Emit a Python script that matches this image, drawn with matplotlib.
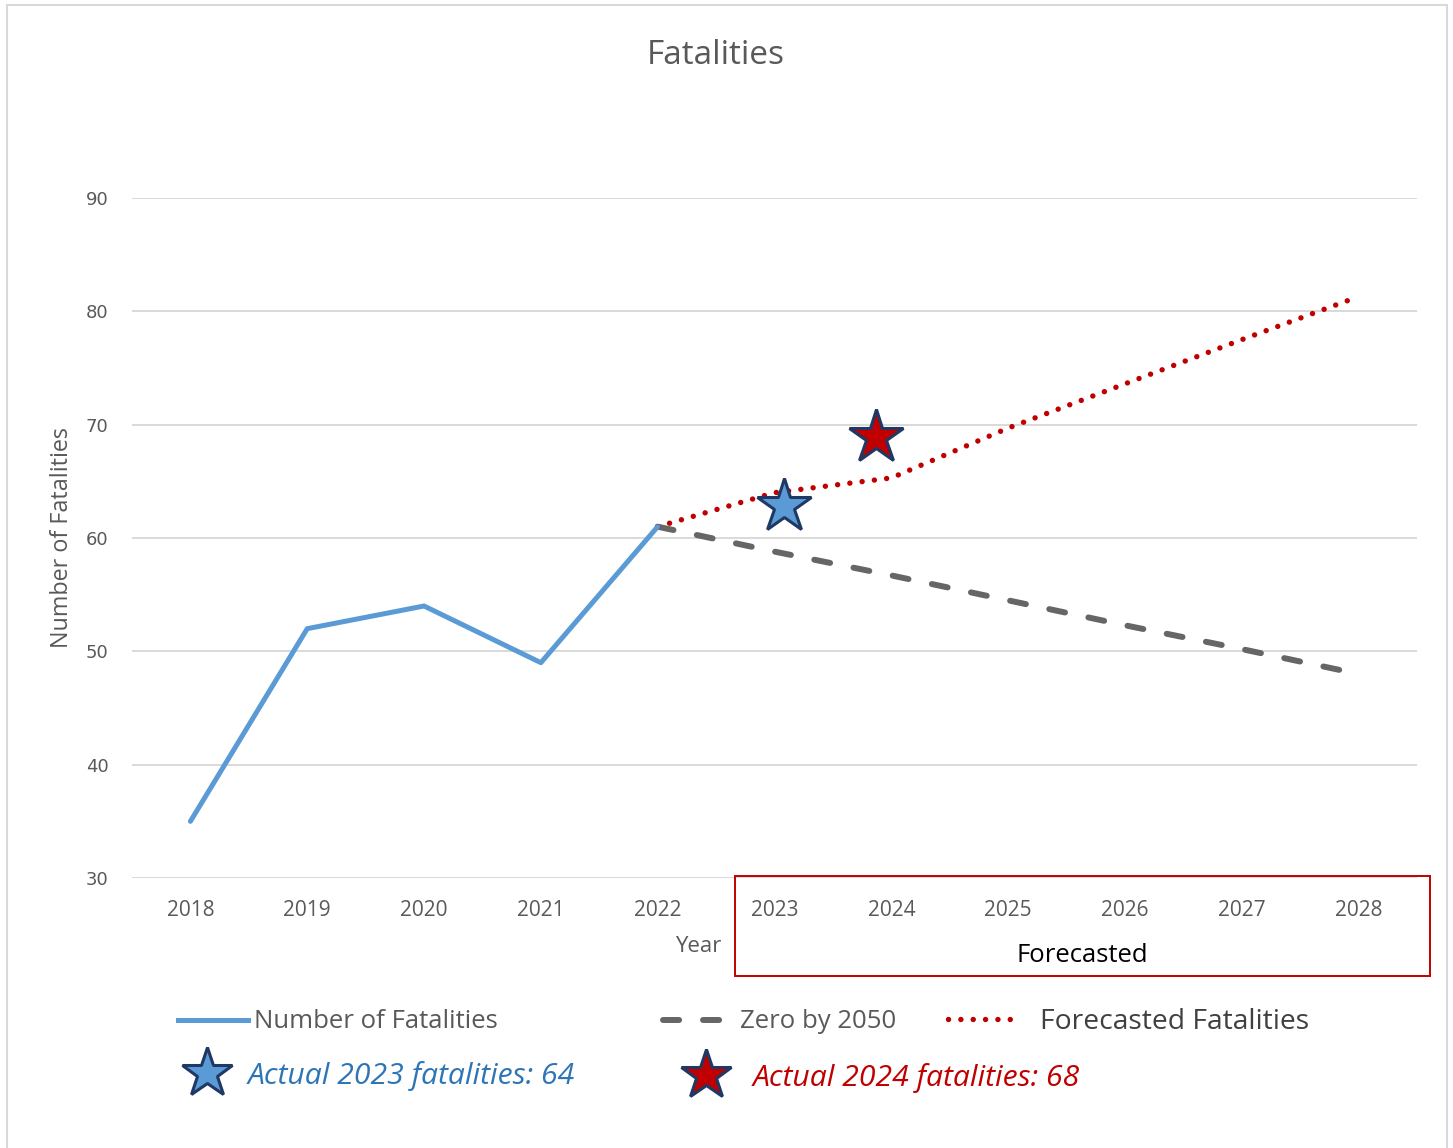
import numpy as np
import matplotlib
matplotlib.use('Agg')
import matplotlib.pyplot as plt
from matplotlib.lines import Line2D
from matplotlib.patches import Rectangle

plt.rcParams['font.family'] = ['Open Sans', 'DejaVu Sans']

############ **** Data **** ############
years = ['2018', '2019', '2020', '2021', '2022', '2023', '2024', '2025', '2026', '2027', '2028']
actual = [35, 52, 54, 49, 61]                       # 2018-2022
zero_2050 = [61, 58.8, 56.7, 54.5, 52.3, 50.2, 48]  # 2022-2028
forecast = [61, 64, 65.3, 69.7, 73.6, 77.5, 81.3]   # 2022-2028
star_x = [5.08, 5.87]      # category position of the two stars
star_y = [62.8, 68.9]
star_labels = ['Actual 2023 fatalities: 64', 'Actual 2024 fatalities: 68']

blue = '#5B9BD5'
red = '#C00000'
grey_line = '#666666'
navy = '#203864'
txt = '#595959'
dotted = (0, (0.01, 2.27))
dashed = (0, (2.7, 4.0))

W, H = 1453, 1148
fig = plt.figure(figsize=(W / 100, H / 100), dpi=100)
ax = fig.add_axes([132 / W, 1 - 878 / H, (1417 - 132) / W, (878 - 198) / H])

x = np.arange(len(years))
ax.plot(x[:5], actual, color=blue, lw=3.6, solid_capstyle='round', zorder=3)
ax.plot(x[4:], zero_2050, color=grey_line, lw=4.3, ls=dashed,
        dash_capstyle='round', zorder=2)
ax.plot(x[4:], forecast, color=red, lw=3.9, ls=dotted,
        dash_capstyle='round', zorder=2)
ax.plot(star_x[0], star_y[0], marker='*', ms=41, mfc=blue, mec=navy, mew=2.2, zorder=4)
ax.plot(star_x[1], star_y[1], marker='*', ms=41, mfc=red, mec=navy, mew=2.2, zorder=4)

ax.set_xlim(-0.5, len(years) - 0.5)
ax.set_ylim(30, 90)
ax.set_yticks([30, 40, 50, 60, 70, 80, 90])
ax.set_xticks(x)
ax.set_xticklabels(years)
ax.grid(axis='y', color='#d9d9d9', lw=1.4)
ax.set_axisbelow(True)
for s in ax.spines.values():
    s.set_visible(False)
ax.tick_params(length=0, colors=txt)
ax.tick_params(axis='x', labelsize=15, pad=16)
ax.tick_params(axis='y', labelsize=13, pad=17)
for lab in ax.get_yticklabels():
    lab.set_fontfamily('DejaVu Sans')

fig.text(716 / W, 1 - 56 / H, 'Fatalities', fontsize=24, color=txt,
         ha='center', va='center')

ax.set_xlabel('Year', fontsize=16, color=txt, va='center')
ax.xaxis.set_label_coords((698 - 132) / 1285, (878 - 946) / 680)
ax.set_ylabel('Number of Fatalities', fontsize=16.8, color=txt, va='center')
ax.yaxis.set_label_coords((62 - 132) / 1285, (878 - 538) / 680)

# forecast box
fig.add_artist(Rectangle((735 / W, 1 - 976 / H), (1430 - 735) / W, 100 / H,
                         transform=fig.transFigure, fill=False, ec=red, lw=1.4))
fig.text(1082 / W, 1 - 955 / H, 'Forecasted', fontsize=18.5, color='black',
         ha='center', va='center')

# outer frame
fig.add_artist(Rectangle((7 / W, -0.01), (1447 - 7) / W, 1.01 - 5 / H,
                         transform=fig.transFigure, fill=False, ec='#d9d9d9', lw=1.5))


def legend_entry(handle, label, left_px, y_px, size, color, hlen_px, pad_px, style='normal'):
    px = size * 100 / 72
    leg = fig.legend([handle], [label], loc='center left',
                     bbox_to_anchor=(left_px / W, 1 - y_px / H), frameon=False,
                     fontsize=size, borderpad=0, borderaxespad=0,
                     handlelength=hlen_px / px, handletextpad=pad_px / px, labelcolor=color)
    for t in leg.get_texts():
        t.set_fontstyle(style)
    return leg


legend_entry(Line2D([], [], color=blue, lw=3.6), 'Number of Fatalities',
             178, 1022, 18.5, txt, 70, 6)
legend_entry(Line2D([], [], color=grey_line, lw=4.3, ls=dashed, dash_capstyle='round'),
             'Zero by 2050', 663, 1022, 18.5, txt, 68, 9)
legend_entry(Line2D([], [], color=red, lw=3.9, ls=dotted, dash_capstyle='round'),
             'Forecasted Fatalities', 948, 1022, 20.3, '#404040', 70, 22)
legend_entry(Line2D([], [], marker='*', ls='none', ms=38, mfc=blue, mec=navy, mew=2.2),
             star_labels[0], 180, 1076, 21.7, '#2E75B6', 54, 14, 'italic')
legend_entry(Line2D([], [], marker='*', ls='none', ms=38, mfc=red, mec=navy, mew=2.2),
             star_labels[1], 679, 1078, 21.7, red, 54, 20, 'italic')

fig.savefig('out.png', dpi=100)
